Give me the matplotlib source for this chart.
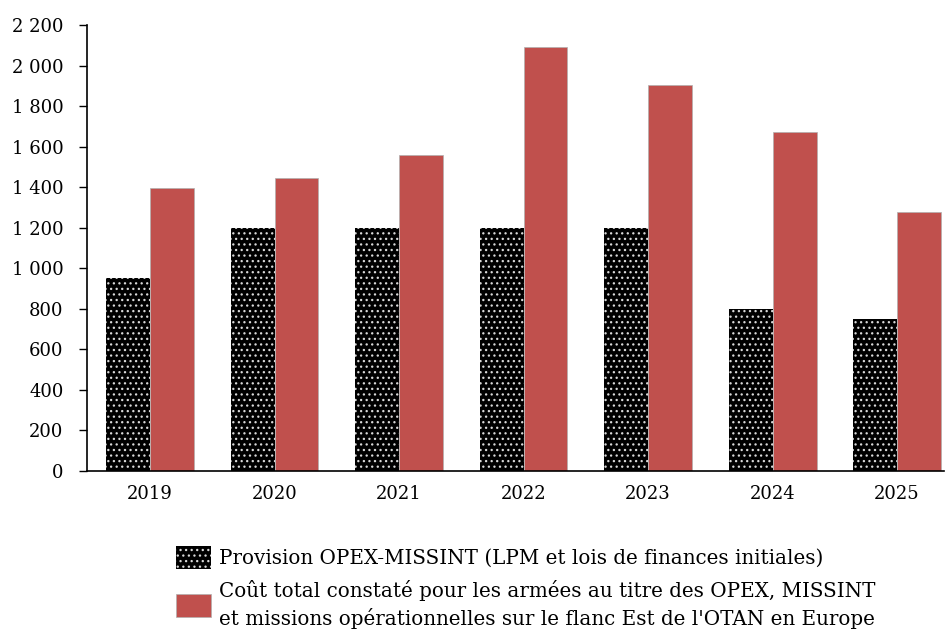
import matplotlib
matplotlib.use("Agg")
import matplotlib.pyplot as plt
import numpy as np
from matplotlib.ticker import FuncFormatter

years = ["2019", "2020", "2021", "2022", "2023", "2024", "2025"]
provision = [950, 1200, 1200, 1200, 1200, 800, 750]
cout_total = [1397, 1447, 1560, 2092, 1905, 1674, 1280]
labels = ["Provision OPEX-MISSINT (LPM et lois de finances initiales)",
          "Coût total constaté pour les armées au titre des OPEX, MISSINT\net missions opérationnelles sur le flanc Est de l'OTAN en Europe"]

plt.rcParams['font.family'] = ['DejaVu Serif']
plt.rcParams['hatch.linewidth'] = 0.9

fig = plt.figure(figsize=(9.46, 6.32), dpi=100)
ax = fig.add_axes([87/946, 1-471/632, (944-87)/946, (471-25)/632])

x = np.arange(len(years))
w = 0.353
b1 = ax.bar(x - w/2, provision, width=w, facecolor='black', edgecolor='#d8d8d8',
            hatch='...', linewidth=0, label=labels[0])
b2 = ax.bar(x + w/2, cout_total, width=w, color='#C0504D', edgecolor='#b0b0b0',
            linewidth=0.5, label=labels[1])

ax.set_xlim(-0.506, 6.377)
ax.set_ylim(0, 2200)
ax.set_yticks(np.arange(0, 2201, 200))
ax.yaxis.set_major_formatter(FuncFormatter(lambda v, p: f"{int(v):,}".replace(",", " ")))
ax.set_xticks(x)
ax.set_xticklabels(years)
ax.tick_params(axis='x', length=0, pad=10, labelsize=13)
ax.tick_params(axis='y', length=6, width=1, labelsize=13, pad=11)
for s in ['top', 'right']:
    ax.spines[s].set_visible(False)
ax.spines['left'].set_linewidth(1.2)
ax.spines['bottom'].set_linewidth(1.2)

leg = fig.legend(handles=[b1, b2], labels=labels, loc='upper left',
                 bbox_to_anchor=(168/946, 1-538/632), frameon=False, fontsize=14.3,
                 handlelength=1.75, handleheight=1.4, handletextpad=0.4,
                 labelspacing=0.55, borderaxespad=0)
leg.get_texts()[1].set_linespacing(1.45)

fig.savefig("out.png", dpi=100)
